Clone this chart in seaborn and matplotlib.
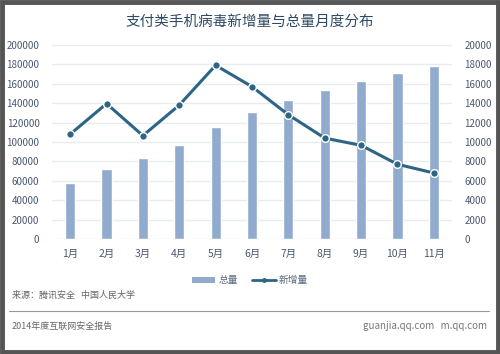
import numpy as np
import pandas as pd
import matplotlib
matplotlib.use("Agg")
import matplotlib.pyplot as plt
import seaborn as sns
from matplotlib.patches import Patch, Rectangle
from matplotlib.lines import Line2D

months = ["1月", "2月", "3月", "4月", "5月", "6月", "7月", "8月", "9月", "10月", "11月"]
total = [58000, 72000, 83000, 97000, 115000, 131000, 143000, 154000, 163000, 171000, 178000]
new_added = [10800, 13950, 10650, 13800, 17900, 15700, 12800, 10400, 9650, 7700, 6800]
left_ticks = [0, 20000, 40000, 60000, 80000, 100000, 120000, 140000, 160000, 180000, 200000]
right_ticks = [0, 2000, 4000, 6000, 8000, 10000, 12000, 14000, 16000, 18000, 20000]

title = "支付类手机病毒新增量与总量月度分布"
legend_labels = ["总量", "新增量"]
source_text = "来源：腾讯安全   中国人民大学"
footer_left = "2014年度互联网安全报告"
footer_right = "guanjia.qq.com   m.qq.com"

df = pd.DataFrame({"month": months, "total": total, "new": new_added})

sns.set_theme(style="white")
plt.rcParams["font.family"] = ["Noto Sans CJK SC", "DejaVu Sans"]

bar_color = "#91abcf"
line_color = "#2c6585"
tick_color = "#4a5870"

fig = plt.figure(figsize=(5.0, 3.54), dpi=100)
fig.patch.set_facecolor("white")
ax = fig.add_axes([0.104, 0.325, 0.80, 0.548])

sns.barplot(data=df, x="month", y="total", color=bar_color, width=0.28,
            saturation=1, ax=ax, zorder=2)
ax.set_ylim(0, 200000)
ax.set_yticks(left_ticks)
ax.set_yticklabels([str(t) for t in left_ticks])
ax.set_xlim(-0.5, len(months) - 0.5)
ax.grid(axis="y", color="#e8ebef", linewidth=1.0, zorder=0)
ax.set_axisbelow(True)
ax.set_xlabel("")
ax.set_ylabel("")
for s in ax.spines.values():
    s.set_visible(False)
ax.tick_params(axis="y", length=0, pad=9, labelsize=7, labelcolor=tick_color)
ax.tick_params(axis="x", length=0, pad=7, labelsize=7.5, labelcolor=tick_color)

ax2 = ax.twinx()
sns.pointplot(data=df, x="month", y="new", color=line_color, markers="o",
              ax=ax2, linewidth=2.2, markersize=5.5,
              markeredgecolor="white", markeredgewidth=1.0)
ax2.set_ylim(0, 20000)
ax2.set_yticks(right_ticks)
ax2.set_yticklabels([str(t) for t in right_ticks])
ax2.set_xlim(-0.5, len(months) - 0.5)
ax2.set_ylabel("")
ax2.set_xlabel("")
for s in ax2.spines.values():
    s.set_visible(False)
ax2.grid(False)
ax2.tick_params(axis="y", length=0, pad=9, labelsize=7, labelcolor=tick_color)

fig.text(0.5, 0.939, title, ha="center", va="center", fontsize=10.5,
         color="#2f4a66")

handles = [Patch(facecolor=bar_color, edgecolor="none"),
           Line2D([0], [0], color=line_color, linewidth=2, marker="o",
                  markersize=2.5, markeredgecolor=line_color)]
fig.legend(handles, legend_labels, loc="center", bbox_to_anchor=(0.5, 0.208),
           ncol=2, frameon=False, fontsize=7, handlelength=2.4,
           handleheight=0.6, columnspacing=1.5, handletextpad=0.3,
           labelcolor="#5a6a80")

fig.text(0.024, 0.166, source_text, ha="left", va="center", fontsize=6.5,
         color="#666666")
fig.add_artist(Line2D([0.018, 0.978], [0.121, 0.121], color="#999999",
                      linewidth=0.8, transform=fig.transFigure))
fig.text(0.024, 0.079, footer_left, ha="left", va="center", fontsize=6.5,
         color="#666666")
fig.text(0.974, 0.079, footer_right, ha="right", va="center", fontsize=7,
         color="#777777")

fig.add_artist(Rectangle((0.004, 0.006), 0.992, 0.988, fill=False,
                         edgecolor="#555555", linewidth=3.5,
                         transform=fig.transFigure))

fig.savefig("out.png", dpi=100, facecolor="white")
